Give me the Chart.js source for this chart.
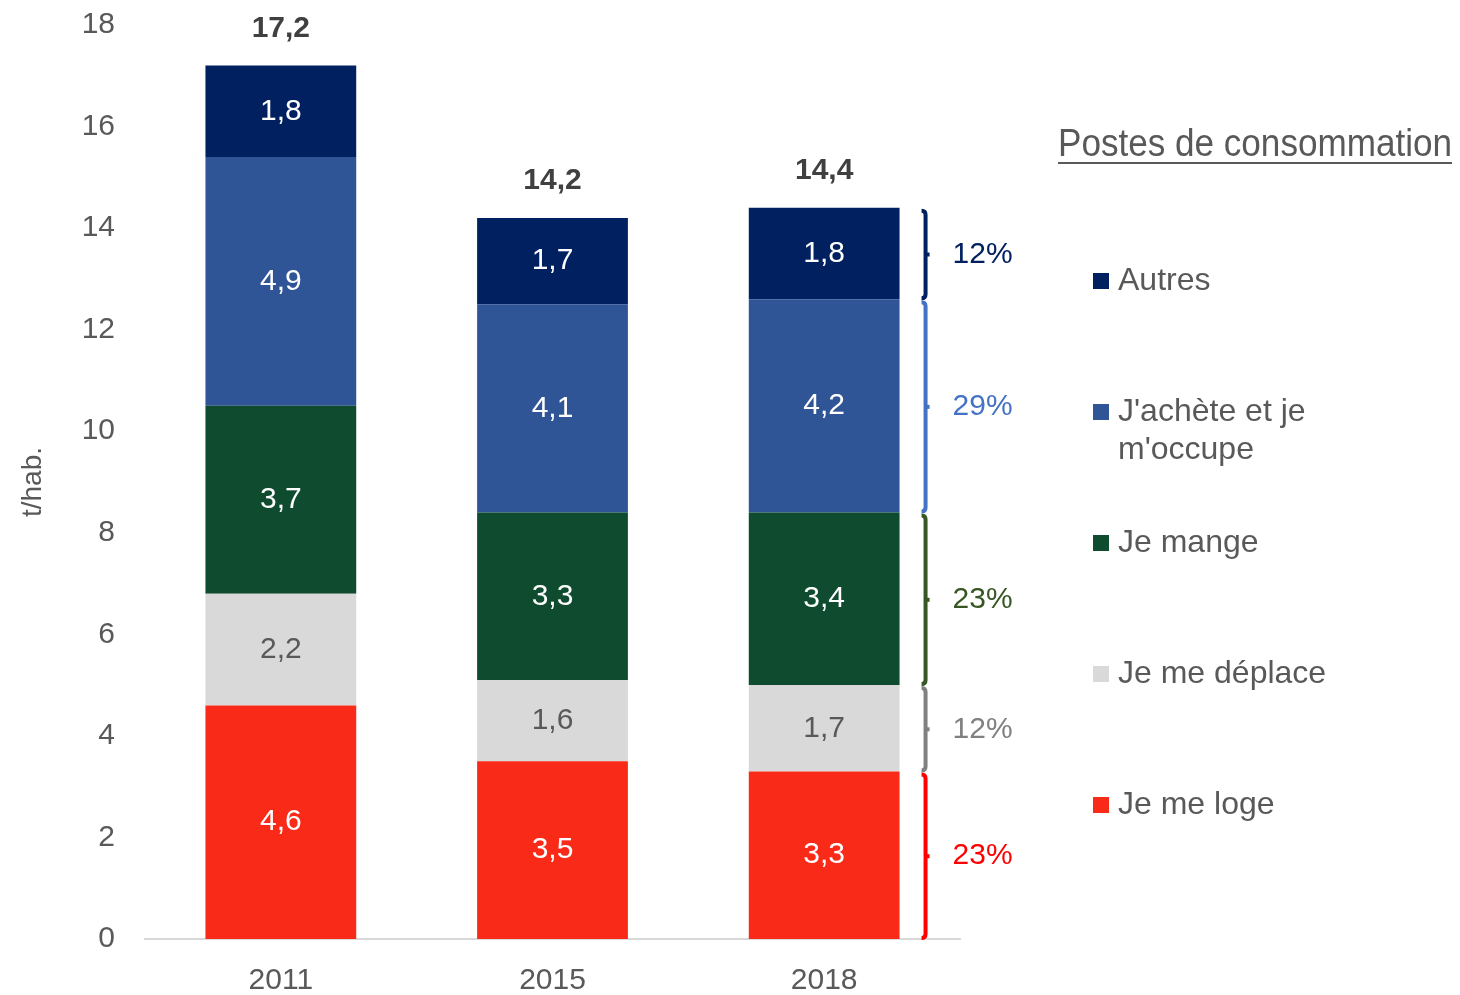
<!DOCTYPE html>
<html>
<head>
<meta charset="utf-8">
<script src="https://cdn.jsdelivr.net/npm/chart.js@4/dist/chart.umd.min.js"></script>
<style>
  html, body { margin: 0; padding: 0; background: #fff; }
  #wrap { width: 1460px; height: 995px; position: relative; }
</style>
</head>
<body>
<div id="wrap"><canvas id="c" width="1460" height="995"></canvas></div>
<script>
// Empreinte carbone par habitant (t/hab.), par poste de consommation
const years = ['2011', '2015', '2018'];
const seriesNames = ['Je me loge', 'Je me déplace', 'Je mange', "J'achète et je m'occupe", 'Autres'];
const legendLines = [['Je me loge'], ['Je me déplace'], ['Je mange'], ["J'achète et je", "m'occupe"], ['Autres']];
const logement = [4.6, 3.5, 3.3];
const deplacement = [2.2, 1.6, 1.7];
const alimentation = [3.7, 3.3, 3.4];
const achats = [4.9, 4.1, 4.2];
const autres = [1.8, 1.7, 1.8];
const totals = [17.2, 14.2, 14.4];
const shares2018 = ['23%', '12%', '23%', '29%', '12%'];
const yTicks = [0, 2, 4, 6, 8, 10, 12, 14, 16, 18];

const barColors = ['#FA2A19', '#D9D9D9', '#0E4B2F', '#2F5597', '#002060'];
const labelColors = ['#FFFFFF', '#595959', '#FFFFFF', '#FFFFFF', '#FFFFFF'];
const shareColors = ['#FF0000', '#808080', '#375623', '#4472C4', '#002060'];
const FONT = "'Liberation Sans', Arial, sans-serif";
const GREY = '#595959';

const fmt = v => v.toFixed(1).replace('.', ',');

const seriesData = [logement, deplacement, alimentation, achats, autres];

// Value labels inside the segments and totals above each bar
const labelsPlugin = {
  id: 'segLabels',
  afterDatasetsDraw(chart) {
    const ctx = chart.ctx;
    ctx.save();
    ctx.textAlign = 'center';
    ctx.textBaseline = 'middle';
    chart.data.datasets.forEach((ds, i) => {
      const meta = chart.getDatasetMeta(i);
      meta.data.forEach((bar, j) => {
        const mid = (bar.y + bar.base) / 2;
        ctx.fillStyle = labelColors[i];
        ctx.font = '30px ' + FONT;
        ctx.fillText(fmt(ds.data[j]), bar.x, mid);
      });
    });
    const top = chart.getDatasetMeta(chart.data.datasets.length - 1);
    const ys = chart.scales.y;
    top.data.forEach((bar, j) => {
      ctx.fillStyle = '#404040';
      ctx.font = 'bold 30px ' + FONT;
      ctx.fillText(fmt(totals[j]), bar.x, ys.getPixelForValue(totals[j]) - 37);
    });
    ctx.restore();
  }
};

// Brackets and shares beside the 2018 bar
const bracketPlugin = {
  id: 'brackets',
  afterDatasetsDraw(chart) {
    const ctx = chart.ctx;
    const last = years.length - 1;
    ctx.save();
    chart.data.datasets.forEach((ds, i) => {
      const bar = chart.getDatasetMeta(i).data[last];
      const right = bar.x + bar.width / 2;
      const x = right + 26;
      const y1 = Math.min(bar.y, bar.base) + 3;
      const y2 = Math.max(bar.y, bar.base) - 1;
      ctx.strokeStyle = shareColors[i];
      ctx.lineWidth = 4;
      ctx.lineCap = 'butt';
      ctx.lineJoin = 'round';
      ctx.beginPath();
      ctx.moveTo(x - 4, y1);
      ctx.quadraticCurveTo(x, y1, x, y1 + 4);
      ctx.lineTo(x, y2 - 4);
      ctx.quadraticCurveTo(x, y2, x - 4, y2);
      ctx.stroke();
      const mid = (y1 + y2) / 2;
      ctx.beginPath();
      ctx.moveTo(x, mid);
      ctx.lineTo(x + 4, mid);
      ctx.stroke();
      ctx.fillStyle = shareColors[i];
      ctx.font = '30px ' + FONT;
      ctx.textAlign = 'center';
      ctx.textBaseline = 'middle';
      ctx.fillText(shares2018[i], right + 83, mid);
    });
    ctx.restore();
  }
};

// Legend block on the right, title underlined
const legendPlugin = {
  id: 'sideLegend',
  afterDraw(chart) {
    const ctx = chart.ctx;
    ctx.save();
    ctx.fillStyle = GREY;
    ctx.textAlign = 'left';
    ctx.textBaseline = 'middle';
    const title = 'Postes de consommation';
    const tx = 1058, ty = 146, titleWidth = 394;
    ctx.font = '38px ' + FONT;
    const w = ctx.measureText(title).width;
    // condensed rendering of the title
    ctx.save();
    ctx.translate(tx, ty);
    ctx.scale(titleWidth / w, 1);
    ctx.fillText(title, 0, 0);
    ctx.restore();
    ctx.strokeStyle = GREY;
    ctx.lineWidth = 2;
    ctx.beginPath();
    ctx.moveTo(tx, ty + 17);
    ctx.lineTo(tx + titleWidth, ty + 17);
    ctx.stroke();

    ctx.font = '32px ' + FONT;
    const order = [4, 3, 2, 1, 0];
    order.forEach((si, k) => {
      const y = 281 + k * 131;
      ctx.fillStyle = barColors[si];
      ctx.fillRect(1093, y - 8, 16, 16);
      ctx.fillStyle = GREY;
      legendLines[si].forEach((line, li) => {
        ctx.fillText(line, 1118, y + li * 38);
      });
    });
    ctx.restore();
  }
};

new Chart(document.getElementById('c'), {
  type: 'bar',
  data: {
    labels: years,
    datasets: seriesNames.map((name, i) => ({
      label: name,
      data: seriesData[i],
      backgroundColor: barColors[i],
      borderWidth: 0,
      barPercentage: 0.555,
      categoryPercentage: 1.0
    }))
  },
  options: {
    responsive: false,
    animation: false,
    devicePixelRatio: 1,
    layout: { padding: { top: 25, right: 500, bottom: 0, left: 0 } },
    plugins: { legend: { display: false }, tooltip: { enabled: false } },
    scales: {
      x: {
        stacked: true,
        grid: { display: false, drawTicks: false },
        border: { display: true, color: '#D9D9D9', width: 2 },
        ticks: { color: GREY, font: { family: FONT, size: 30 }, padding: 24 },
        afterFit(scale) { scale.height = 56; }
      },
      y: {
        stacked: true,
        min: 0,
        max: 18,
        afterBuildTicks(scale) { scale.ticks = yTicks.map(v => ({ value: v })); },
        grid: { display: false, drawTicks: false },
        border: { display: false },
        ticks: { color: GREY, font: { family: FONT, size: 30 }, padding: 30 },
        title: {
          display: true,
          text: 't/hab.',
          color: GREY,
          font: { family: FONT, size: 28 },
          padding: { top: 16, bottom: 0 }
        },
        afterFit(scale) {
          scale.width = 145;
          scale.paddingTop = 0;
          scale.paddingBottom = 0;
        }
      }
    }
  },
  plugins: [labelsPlugin, bracketPlugin, legendPlugin]
});
</script>
</body>
</html>
